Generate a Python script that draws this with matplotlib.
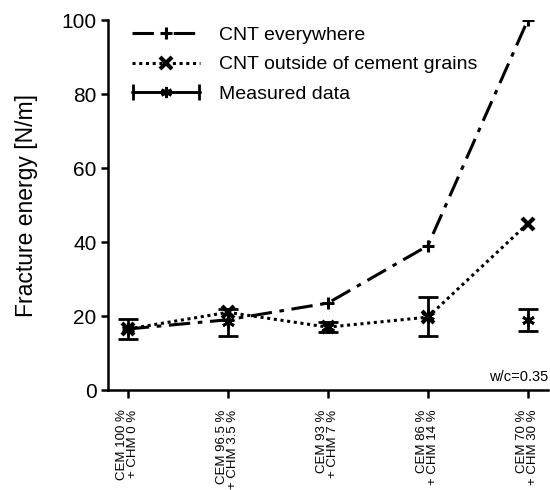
import matplotlib
matplotlib.use("Agg")
import matplotlib.pyplot as plt
from matplotlib.legend_handler import HandlerErrorbar
import numpy as np

plt.rcParams['font.family'] = ['Liberation Sans', 'DejaVu Sans']

# mixtures on the x axis
labels = ["CEM 100 %\n+ CHM 0 %", "CEM 96.5 %\n+ CHM 3.5 %", "CEM 93 %\n+ CHM 7 %",
          "CEM 86 %\n+ CHM 14 %", "CEM 70 %\n+ CHM 30 %"]
x = np.arange(len(labels))

# simulated fracture energy [N/m]
cnt_everywhere = [16.5, 19.0, 23.5, 39.0, 100.0]
cnt_outside = [16.5, 21.0, 17.0, 19.7, 45.0]

# measured data, mean and error
measured = [16.5, 18.3, 17.0, 19.9, 18.9]
measured_err = [2.7, 3.6, 1.4, 5.3, 3.0]

fig = plt.figure(figsize=(5.5, 4.9), dpi=100)
ax = fig.add_axes([0.196, 0.204, 0.8, 0.755])

ax.plot(x, cnt_everywhere, color='black', lw=2.2, linestyle=(0, (7, 2.5, 1.5, 2.5)),
        marker='+', ms=9, mew=2.2, label='CNT everywhere')
ax.plot(x, cnt_outside, color='black', lw=2.2, linestyle=(0, (1, 1.2)),
        marker='x', ms=8, mew=3, label='CNT outside of cement grains')
ax.errorbar(x, measured, yerr=measured_err, fmt='none', ecolor='black',
            elinewidth=2, capsize=7, capthick=2)
ax.plot(x, measured, linestyle='none', color='black', marker=(6, 2, 0), ms=9, mew=2)
# legend handle for measured data (horizontal bar with caps, off screen)
eb = ax.errorbar([np.nan], [np.nan], xerr=[1], color='black', lw=1.8, capsize=6, capthick=2,
                 marker=(6, 2, 0), ms=8, mew=2, label='Measured data')

ax.set_xlim(-0.2, 4.2)
ax.set_ylim(0, 100)
ax.set_yticks([0, 20, 40, 60, 80, 100])
ax.set_xticks(x)
ax.set_xticklabels(labels, rotation=90, ha='center', va='top', multialignment='right',
                   fontsize=9.5, linespacing=0.9)
ax.tick_params(axis='y', labelsize=15, width=1.8, length=5, pad=3)
ax.tick_params(axis='x', width=1.8, length=6, pad=8)
ax.set_ylabel('Fracture energy [N/m]', fontsize=16.5, labelpad=17)

for s in ['top', 'right']:
    ax.spines[s].set_visible(False)
for s in ['left', 'bottom']:
    ax.spines[s].set_linewidth(1.8)

ax.text(4.2, 1.5, 'w/c=0.35', ha='right', va='bottom', fontsize=10.5)

ax.legend(loc='upper left', frameon=False, fontsize=14, handlelength=3.5,
          bbox_to_anchor=(0.015, 1.03), labelspacing=0.6, handletextpad=1.0,
          handler_map={eb: HandlerErrorbar(xerr_size=1.7)})

fig.savefig('out.png', dpi=100)
